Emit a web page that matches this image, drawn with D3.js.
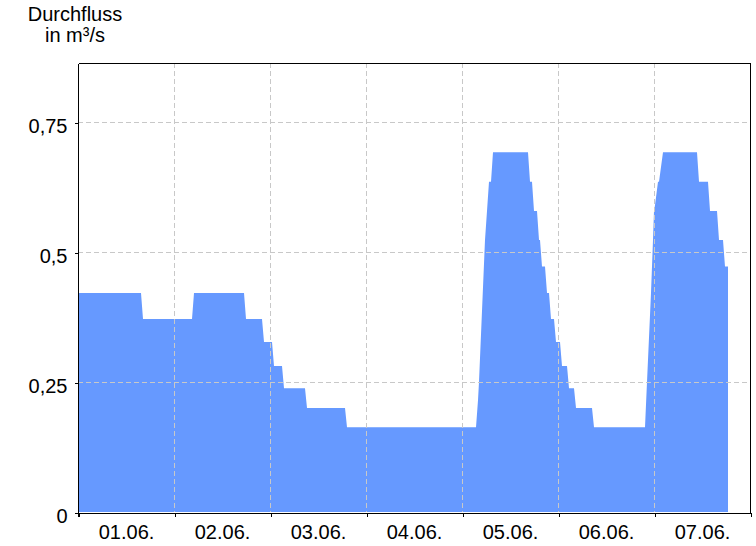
<!DOCTYPE html>
<html>
<head>
<meta charset="utf-8">
<script src="https://cdn.jsdelivr.net/npm/d3@7"></script>
<style>
  body { margin: 0; background: #fff; }
  text { font-family: "Liberation Sans", Arial, sans-serif; }
</style>
</head>
<body>
<svg id="chart" width="756" height="546"></svg>
<script>
// Hours since 01.06. 00:00
const hours = [0, 15.75, 16.25, 28.5, 29, 41.5, 42, 46, 46.5, 48.5,
  49, 51, 51.5, 56.75, 57.25, 66.75, 67.25, 99.5, 100, 100.25,
  101.75, 102.25, 102.75, 103.25, 103.75, 112.5, 113, 113.5, 114, 114.75,
  115.25, 115.5, 116, 116.75, 117.25, 117.75, 118.25, 119, 119.5, 120.5,
  121, 122.25, 122.75, 124, 124.5, 128.5, 129, 141.75, 142.25, 143.25,
  143.75, 144, 144.25, 145, 145.25, 146.25, 154.75, 155.25, 157.5, 158,
  159.75, 160.25, 161.25, 161.75, 162.5];
// Discharge in m³/s
const flow = [0.421, 0.421, 0.371, 0.371, 0.421, 0.421, 0.371, 0.371, 0.327, 0.327,
  0.281, 0.281, 0.238, 0.238, 0.2, 0.2, 0.163, 0.163, 0.215, 0.25,
  0.523, 0.579, 0.635, 0.635, 0.692, 0.692, 0.635, 0.635, 0.579, 0.579,
  0.523, 0.523, 0.472, 0.472, 0.421, 0.421, 0.371, 0.371, 0.327, 0.327,
  0.281, 0.281, 0.238, 0.238, 0.2, 0.2, 0.163, 0.163, 0.25, 0.421,
  0.523, 0.579, 0.59, 0.635, 0.635, 0.692, 0.692, 0.635, 0.635, 0.579,
  0.579, 0.523, 0.523, 0.472, 0.472];
const dayLabels = ["01.06.", "02.06.", "03.06.", "04.06.", "05.06.", "06.06.", "07.06."];
const yTicks = [0, 0.25, 0.5, 0.75];
const yTickLabels = ["0", "0,25", "0,5", "0,75"];
const titleLines = ["Durchfluss", "in m³/s"];

const data = hours.map((h, i) => ({h, v: flow[i]}));

const L = 78, R = 750, T = 63, B = 512;
const x = d3.scaleLinear().domain([0, 24 * dayLabels.length]).range([L, R]);
const y = d3.scaleLinear().domain([0, 0.8635]).range([B, T]);

const svg = d3.select("#chart");

// area
svg.append("path")
  .datum(data)
  .attr("fill", "#6699ff")
  .attr("d", d3.area().x(d => x(d.h)).y0(y(0)).y1(d => y(d.v)));

// grid
const grid = svg.append("g").attr("stroke", "#c8c8c8").attr("stroke-dasharray", "5,3")
  .attr("shape-rendering", "crispEdges");
const dayBounds = d3.range(1, dayLabels.length).map(d => d * 24);
grid.selectAll("line.v").data(dayBounds).join("line")
  .attr("x1", d => x(d) + 0.5).attr("x2", d => x(d) + 0.5)
  .attr("y1", T).attr("y2", B);
grid.selectAll("line.h").data(yTicks.slice(1)).join("line")
  .attr("x1", L).attr("x2", R)
  .attr("y1", d => y(d) + 0.5).attr("y2", d => y(d) + 0.5);

// frame top / right
svg.append("path")
  .attr("d", `M${L + 0.5},${T + 0.5}H${R + 0.5}V${B + 0.5}`)
  .attr("fill", "none").attr("stroke", "#000").attr("shape-rendering", "crispEdges");

// y axis
const yAxis = svg.append("g").attr("transform", `translate(${L + 0.5},0.5)`)
  .call(d3.axisLeft(y).tickValues(yTicks).tickFormat((d, i) => yTickLabels[i])
    .tickSize(4).tickPadding(7).tickSizeOuter(0));
yAxis.selectAll("text").attr("font-size", 20).attr("dy", "0.48em")
  .attr("font-family", "Liberation Sans, Arial, sans-serif").attr("fill", "#000");
yAxis.select(".domain").attr("d", `M0,${T}V${B + 4}`);
yAxis.selectAll("line, path").attr("stroke", "#000").attr("shape-rendering", "crispEdges");

// x axis ticks at day boundaries
const xAxis = svg.append("g").attr("transform", `translate(0.5,${B + 0.5})`)
  .call(d3.axisBottom(x).tickValues(d3.range(0, dayLabels.length + 1).map(d => d * 24))
    .tickFormat("").tickSize(4).tickSizeOuter(0));
xAxis.selectAll("line, path").attr("stroke", "#000").attr("shape-rendering", "crispEdges");

// x labels at noon
const xLab = svg.append("g").attr("transform", `translate(0,${B})`)
  .call(d3.axisBottom(x).tickValues(dayLabels.map((d, i) => i * 24 + 12))
    .tickFormat((d, i) => dayLabels[i]).tickSize(0).tickPadding(13));
xLab.select(".domain").remove();
xLab.selectAll("text").attr("font-size", 20)
  .attr("font-family", "Liberation Sans, Arial, sans-serif").attr("fill", "#000");

// title
svg.append("text").attr("x", 75).attr("y", 21).attr("text-anchor", "middle")
  .attr("font-size", 20).attr("fill", "#000").text(titleLines[0]);
svg.append("text").attr("x", 75).attr("y", 42).attr("text-anchor", "middle")
  .attr("font-size", 20).attr("fill", "#000").text(titleLines[1]);
</script>
</body>
</html>
